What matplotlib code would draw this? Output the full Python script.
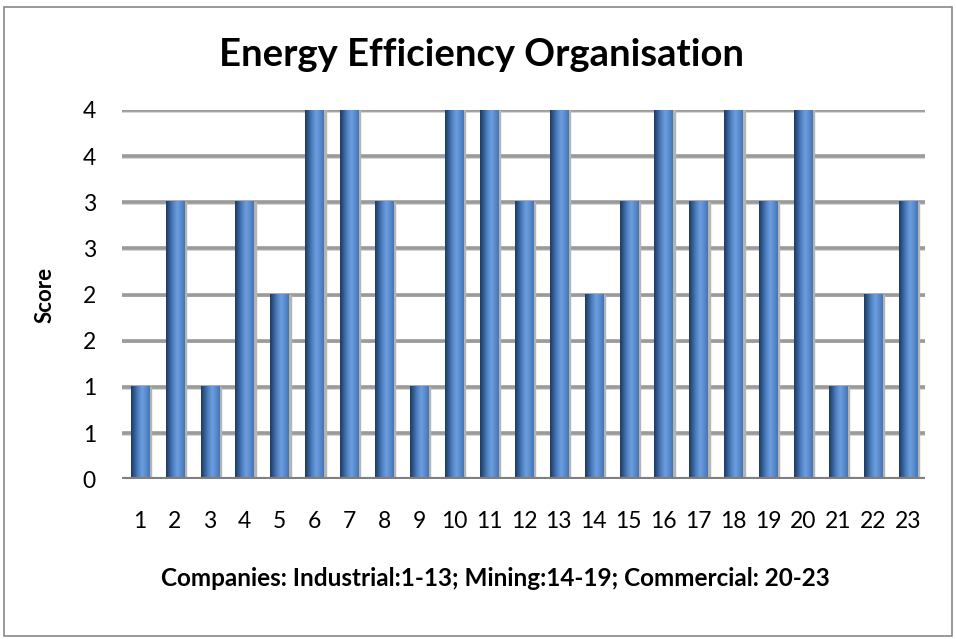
import numpy as np
import matplotlib
matplotlib.use("Agg")
import matplotlib.pyplot as plt
from matplotlib.colors import LinearSegmentedColormap
from matplotlib.patches import Rectangle

plt.rcParams['font.family'] = ['Lato', 'DejaVu Sans']

# data
companies = [str(i) for i in range(1, 24)]
scores = [1, 3, 1, 3, 2, 4, 4, 3, 1, 4, 4, 3, 4, 2, 3, 4, 3, 4, 3, 4, 1, 2, 3]
y_ticks = [0, 0.5, 1, 1.5, 2, 2.5, 3, 3.5, 4]

fig = plt.figure(figsize=(9.56, 6.39), dpi=100)
# outer border like the Excel chart area
fig.patches.append(Rectangle((0.004, 0.004), 0.992, 0.985, transform=fig.transFigure,
                             fill=False, edgecolor='#888888', linewidth=1.2))

ax = fig.add_axes([0.128, 0.250, 0.840, 0.578])

x = np.arange(len(companies))
w = 0.52
ymax = 4.0

# gridlines with a light shadow
for t in y_ticks[1:]:
    ax.axhline(t, color='#9a9a9a', linewidth=2.6, zorder=1)
    ax.axhline(t - 0.018, color='#d0d0d0', linewidth=1.2, zorder=0.9)
ax.axhline(0, color='#7f7f7f', linewidth=3, zorder=4)

# cylinder-ish shading across each bar
cmap = LinearSegmentedColormap.from_list('cyl', ['#1e3a60', '#355f96', '#5285c6', '#6c9ddd', '#5a8bcf', '#4474b0'])
grad = np.linspace(0, 1, 64).reshape(1, -1)
for xi, v in zip(x, scores):
    # soft shadow on the right
    ax.add_patch(Rectangle((xi - w / 2 + 0.06, 0), w, v, color='#b4b4b4', zorder=2))
    ax.imshow(grad, cmap=cmap, extent=[xi - w / 2, xi + w / 2, 0, v], aspect='auto', zorder=3, interpolation='bilinear')

ax.set_xlim(-0.5, len(companies) - 0.5)
ax.set_ylim(0, ymax)

ax.set_xticks(x)
ax.set_xticklabels(companies, fontsize=16.5)
ax.set_yticks(y_ticks)
ax.set_yticklabels([str(int(t + 0.5)) for t in y_ticks], fontsize=16.5)
ax.tick_params(length=0)
ax.tick_params(axis='x', pad=23)
ax.tick_params(axis='y', pad=19)
for s in ax.spines.values():
    s.set_visible(False)

ax.set_ylabel('Score', fontsize=16, fontweight='bold')
ax.yaxis.set_label_coords(-0.096, 0.5)
ax.yaxis.label.set_va('center')
ax.set_xlabel('Companies: Industrial:1-13; Mining:14-19; Commercial: 20-23', fontsize=17.5, fontweight='bold')
ax.xaxis.label.set_va('center')
ax.xaxis.set_label_coords(0.464, -0.268)
fig.text(0.504, 0.914, 'Energy Efficiency Organisation', ha='center', va='center', fontsize=27.5, fontweight='bold')

fig.savefig('out.png', dpi=100)
